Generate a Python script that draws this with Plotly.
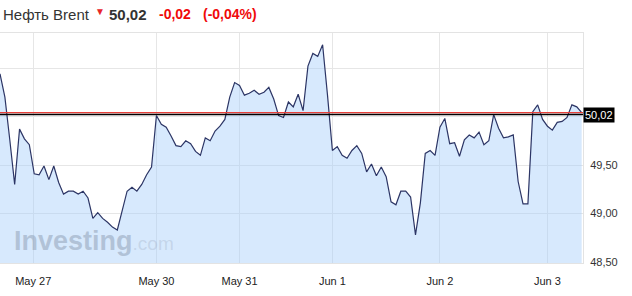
import plotly.graph_objects as go

# ---- data (hourly Brent prices) ----
prices = [
    50.44, 50.20, 49.76, 49.30, 49.87, 49.77, 49.71, 49.41, 49.40, 49.49,
    49.35, 49.49, 49.32, 49.20, 49.23, 49.23, 49.20, 49.23, 49.16, 48.95,
    49.01, 48.95, 48.91, 48.86, 48.83, 49.04, 49.23, 49.27, 49.23, 49.30,
    49.40, 49.48, 50.01, 49.92, 49.89, 49.80, 49.70, 49.69, 49.75, 49.72,
    49.64, 49.60, 49.78, 49.75, 49.85, 49.90, 49.97, 50.20, 50.35, 50.32,
    50.22, 50.24, 50.27, 50.23, 50.25, 50.30, 50.18, 50.01, 49.99, 50.15,
    50.10, 50.23, 50.06, 50.52, 50.65, 50.62, 50.74, 50.22, 49.65, 49.69,
    49.60, 49.57, 49.65, 49.70, 49.62, 49.43, 49.51, 49.39, 49.48, 49.38,
    49.12, 49.09, 49.23, 49.23, 49.17, 48.78, 49.11, 49.62, 49.65, 49.60,
    49.89, 49.98, 49.72, 49.73, 49.59, 49.76, 49.81, 49.78, 49.84, 49.71,
    49.75, 50.02, 49.88, 49.78, 49.79, 49.81, 49.33, 49.10, 49.10, 50.05,
    50.12, 49.97, 49.90, 49.86, 49.94, 49.95, 49.99, 50.12, 50.10, 50.04,
]
bar_index = list(range(len(prices)))

day_labels = ["May 27", "May 30", "May 31", "Jun 1", "Jun 2", "Jun 3"]
day_index = [6.8, 32, 49, 68, 90, 112]

y_tick_values = [48.5, 49.0, 49.5, 50.0, 50.5]
y_tick_labels = ["48,50", "49,00", "49,50", "", ""]

last_price = 50.02
prev_close = 50.04
title_name = "Нефть Brent"
title_price = "50,02"
title_change = "-0,02"
title_pct = "(-0,04%)"

FONT = "Arial, 'Liberation Sans', sans-serif"
W, H = 632, 296
ML, MR, MT, MB = 0, 49, 33, 33
plot_w = W - ML - MR
plot_h = H - MT - MB

def px_x(p):
    return p / plot_w

def px_y(p):
    # p measured in pixels from top of the window
    return 1 - (p - MT) / plot_h

fig = go.Figure()
fig.add_trace(go.Scatter(
    x=bar_index, y=prices, mode="lines",
    line=dict(color="#2c3565", width=1.2),
    fill="tozeroy", fillcolor="rgba(166,206,250,0.45)",
    hoverinfo="skip",
))

fig.add_shape(type="line", xref="paper", yref="y", x0=0, x1=1,
              y0=prev_close, y1=prev_close,
              line=dict(color="#e8403a", width=1.3), layer="above")
fig.add_shape(type="line", xref="paper", yref="y", x0=0, x1=1,
              y0=last_price, y1=last_price,
              line=dict(color="#000000", width=1.5), layer="above")

ann = []
# price label box on right axis
ann.append(dict(xref="paper", yref="y", x=1, y=last_price, xanchor="left",
                yanchor="middle", text="50,02", showarrow=False,
                font=dict(family=FONT, size=11, color="white"),
                bgcolor="black", borderpad=1))
# header
hy = px_y(14.5)
ann.append(dict(xref="paper", yref="paper", x=px_x(1), y=hy, xanchor="left",
                yanchor="middle", text=title_name, showarrow=False,
                font=dict(family=FONT, size=15, color="#333333")))
ann.append(dict(xref="paper", yref="paper", x=px_x(100), y=px_y(11.5), xanchor="center",
                yanchor="middle", text="▼", showarrow=False,
                font=dict(family=FONT, size=10, color="#e8262a")))
ann.append(dict(xref="paper", yref="paper", x=px_x(107), y=hy, xanchor="left",
                yanchor="middle", text="<b>" + title_price + "</b>", showarrow=False,
                font=dict(family=FONT, size=15, color="#333333")))
ann.append(dict(xref="paper", yref="paper", x=px_x(157), y=hy, xanchor="left",
                yanchor="middle", text="<b>" + title_change + "</b>", showarrow=False,
                font=dict(family=FONT, size=14, color="#f00a0a")))
ann.append(dict(xref="paper", yref="paper", x=px_x(201), y=hy, xanchor="left",
                yanchor="middle", text="<b>" + title_pct + "</b>", showarrow=False,
                font=dict(family=FONT, size=14, color="#f00a0a")))
# watermark
ann.append(dict(xref="paper", yref="paper", x=px_x(12), y=px_y(241), xanchor="left",
                yanchor="middle",
                text="<b>Investing</b><span style='font-size:19px;color:rgba(150,165,188,0.6)'>.com</span>",
                showarrow=False,
                font=dict(family=FONT, size=27, color="rgba(140,155,178,0.5)")))

fig.update_layout(
    width=W, height=H,
    margin=dict(l=ML, r=MR, t=MT, b=MB, pad=0),
    paper_bgcolor="white", plot_bgcolor="white",
    showlegend=False,
    annotations=ann,
    xaxis=dict(range=[0, 119.27], tickvals=day_index, ticktext=day_labels,
               showgrid=True, gridcolor="#e6e6e6", gridwidth=1,
               showline=True, linecolor="#e3e3e3", linewidth=1, mirror=True,
               zeroline=False, ticks="", ticklabelstandoff=8,
               tickfont=dict(family=FONT, size=11, color="#222222")),
    yaxis=dict(range=[48.49, 50.861], side="right", tickvals=y_tick_values,
               ticktext=y_tick_labels, showgrid=True, gridcolor="#e6e6e6",
               gridwidth=1, showline=True, linecolor="#e3e3e3", linewidth=1,
               mirror=True, zeroline=False, ticks="", ticklabelstandoff=4,
               tickfont=dict(family=FONT, size=11, color="#333333")),
)

fig.write_html("out.html")
